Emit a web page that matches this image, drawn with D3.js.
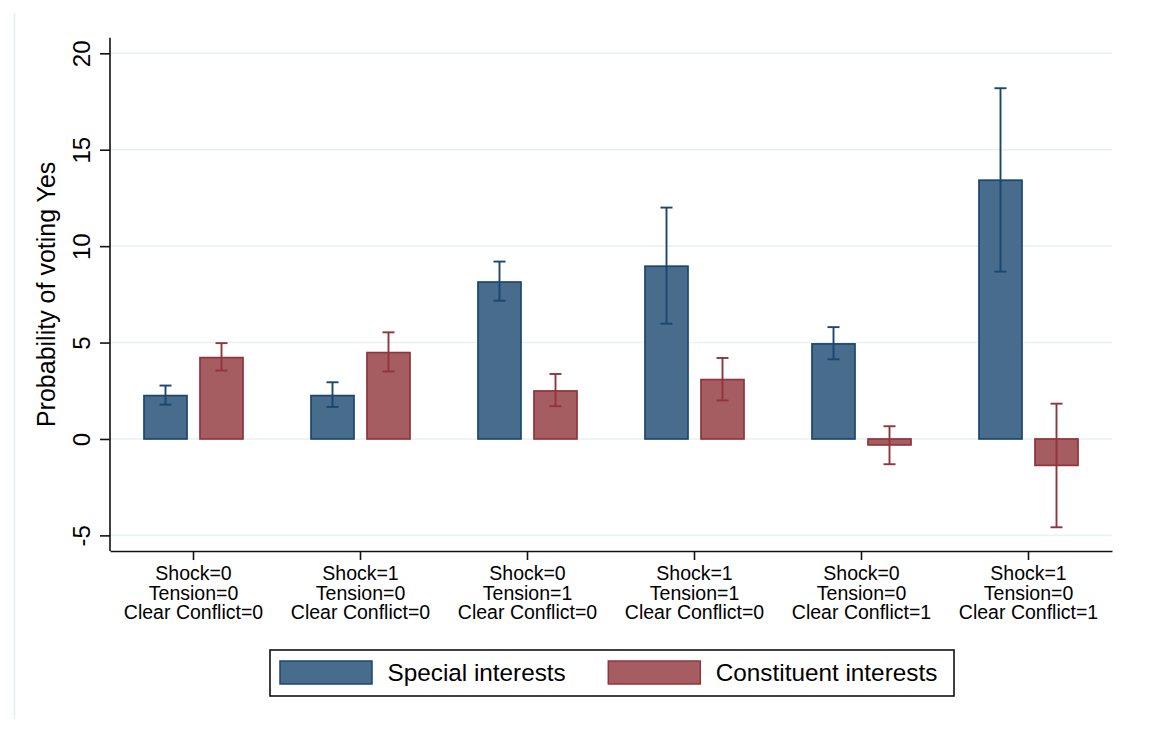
<!DOCTYPE html>
<html>
<head>
<meta charset="utf-8">
<script src="https://cdn.jsdelivr.net/npm/d3@7"></script>
<style>
  html, body { margin: 0; padding: 0; background: #ffffff; }
  svg { display: block; }
  text { font-family: "Liberation Sans", Arial, Helvetica, sans-serif; fill: #000; }
</style>
</head>
<body>
<svg id="chart" width="1151" height="731"></svg>
<script>
// Scenario groups (three-line labels under each group)
const groups = [
  ["Shock=0", "Tension=0", "Clear Conflict=0"],
  ["Shock=1", "Tension=0", "Clear Conflict=0"],
  ["Shock=0", "Tension=1", "Clear Conflict=0"],
  ["Shock=1", "Tension=1", "Clear Conflict=0"],
  ["Shock=0", "Tension=0", "Clear Conflict=1"],
  ["Shock=1", "Tension=0", "Clear Conflict=1"]
];
const series = ["Special interests", "Constituent interests"];

// Point estimates and confidence bounds per group
const specialValues = [2.25, 2.25, 8.14, 8.96, 4.93, 13.42];
const specialLow    = [1.78, 1.66, 7.17, 5.98, 4.13, 8.68];
const specialHigh   = [2.77, 2.94, 9.20, 12.00, 5.80, 18.19];

const constituentValues = [4.22, 4.48, 2.49, 3.08, -0.31, -1.37];
const constituentLow    = [3.55, 3.50, 1.70, 2.00, -1.31, -4.58];
const constituentHigh   = [4.97, 5.53, 3.37, 4.20, 0.66, 1.83];

const yTicks = [-5, 0, 5, 10, 15, 20];
const yTickLabels = ["-5", "0", "5", "10", "15", "20"];
const yTitle = "Probability of voting Yes";

const fills   = ["#486c8c", "#a65d62"];
const strokes = ["#1a476f", "#90353b"];

const rows = groups.map((g, i) => ({
  key: i,
  label: g,
  vals: [
    { s: 0, v: specialValues[i], lo: specialLow[i], hi: specialHigh[i] },
    { s: 1, v: constituentValues[i], lo: constituentLow[i], hi: constituentHigh[i] }
  ]
}));

const svg = d3.select("#chart");

// Light outer frame edge of the graph region
svg.append("line")
  .attr("x1", 14.5).attr("x2", 14.5).attr("y1", 13).attr("y2", 719)
  .attr("stroke", "#e4edef").attr("stroke-width", 1.5);

const plot = { left: 110, right: 1112, top: 37.7, bottom: 551 };

const x = d3.scaleBand()
  .domain(rows.map(r => r.key))
  .range([plot.left, plot.right])
  .padding(0);

const xInner = d3.scaleBand()
  .domain([0, 1])
  .range([0, x.bandwidth()])
  .paddingInner(0.232)
  .paddingOuter(0.607);

const y = d3.scaleLinear()
  .domain([-5.81, 20.81])
  .range([plot.bottom, plot.top]);

// Gridlines
svg.append("g")
  .selectAll("line")
  .data(yTicks)
  .join("line")
  .attr("x1", plot.left).attr("x2", plot.right)
  .attr("y1", d => y(d)).attr("y2", d => y(d))
  .attr("stroke", "#eaf1f3").attr("stroke-width", 1.6);

// Bars
const gGroups = svg.append("g")
  .selectAll("g")
  .data(rows)
  .join("g")
  .attr("transform", d => `translate(${x(d.key)},0)`);

gGroups.selectAll("rect")
  .data(d => d.vals)
  .join("rect")
  .attr("x", d => xInner(d.s))
  .attr("width", xInner.bandwidth())
  .attr("y", d => y(Math.max(0, d.v)))
  .attr("height", d => Math.abs(y(d.v) - y(0)))
  .attr("fill", d => fills[d.s])
  .attr("stroke", d => strokes[d.s])
  .attr("stroke-width", 1.7);

// Error bars with caps
const capHalf = 6;
const eb = gGroups.selectAll("g.err")
  .data(d => d.vals)
  .join("g")
  .attr("class", "err")
  .attr("stroke", d => strokes[d.s])
  .attr("stroke-width", 1.9);

eb.append("line")
  .attr("x1", d => xInner(d.s) + xInner.bandwidth() / 2)
  .attr("x2", d => xInner(d.s) + xInner.bandwidth() / 2)
  .attr("y1", d => y(d.lo)).attr("y2", d => y(d.hi));
eb.append("line")
  .attr("x1", d => xInner(d.s) + xInner.bandwidth() / 2 - capHalf)
  .attr("x2", d => xInner(d.s) + xInner.bandwidth() / 2 + capHalf)
  .attr("y1", d => y(d.hi)).attr("y2", d => y(d.hi));
eb.append("line")
  .attr("x1", d => xInner(d.s) + xInner.bandwidth() / 2 - capHalf)
  .attr("x2", d => xInner(d.s) + xInner.bandwidth() / 2 + capHalf)
  .attr("y1", d => y(d.lo)).attr("y2", d => y(d.lo));

// Y axis
const yAxis = svg.append("g")
  .attr("transform", `translate(${plot.left},0)`)
  .call(d3.axisLeft(y).tickValues(yTicks).tickSize(10).tickSizeOuter(0)
    .tickFormat((d, i) => yTickLabels[i]));
yAxis.select(".domain").attr("stroke", "#111").attr("stroke-width", 1.6);
yAxis.selectAll(".tick line").attr("stroke", "#111").attr("stroke-width", 1.6);
yAxis.selectAll(".tick text")
  .attr("x", null).attr("dy", null)
  .attr("transform", "translate(-20,0) rotate(-90)")
  .attr("text-anchor", "middle")
  .style("font-family", "'Liberation Sans', Arial, sans-serif")
  .style("font-size", "24px")
  .attr("fill", "#000");
yAxis.select(".domain").attr("d", `M0,${plot.top}V${plot.bottom}`);

// X axis
const xAxis = svg.append("g")
  .attr("transform", `translate(0,${plot.bottom})`)
  .call(d3.axisBottom(x).tickSize(9).tickSizeOuter(0).tickFormat(""));
xAxis.select(".domain").attr("stroke", "#111").attr("stroke-width", 1.6);
xAxis.selectAll(".tick line").attr("stroke", "#111").attr("stroke-width", 1.6);

const xl = svg.append("g")
  .selectAll("text")
  .data(rows)
  .join("text")
  .attr("transform", d => `translate(${x(d.key) + x.bandwidth() / 2},0)`)
  .attr("text-anchor", "middle")
  .style("font-size", "19.5px");
xl.selectAll("tspan")
  .data(d => d.label)
  .join("tspan")
  .attr("x", 0)
  .attr("y", (d, i) => 580 + i * 19.6)
  .text(d => d);

// Y title
svg.append("text")
  .attr("transform", `translate(55,${(plot.top + plot.bottom) / 2}) rotate(-90)`)
  .attr("text-anchor", "middle")
  .style("font-size", "25px")
  .text(yTitle);

// Legend
const legend = svg.append("g");
legend.append("rect")
  .attr("x", 270).attr("y", 650).attr("width", 684).attr("height", 46)
  .attr("fill", "#fff").attr("stroke", "#111").attr("stroke-width", 1.6);
const items = legend.selectAll("g.item")
  .data(series)
  .join("g")
  .attr("class", "item")
  .attr("transform", (d, i) => `translate(${280 + i * 328.3},0)`);
items.append("rect")
  .attr("x", 0).attr("y", 661).attr("width", 92).attr("height", 23)
  .attr("fill", (d, i) => fills[i])
  .attr("stroke", (d, i) => strokes[i])
  .attr("stroke-width", 1.5);
items.append("text")
  .attr("x", 107.5).attr("y", 681)
  .style("font-size", "24.3px")
  .text(d => d);
</script>
</body>
</html>
